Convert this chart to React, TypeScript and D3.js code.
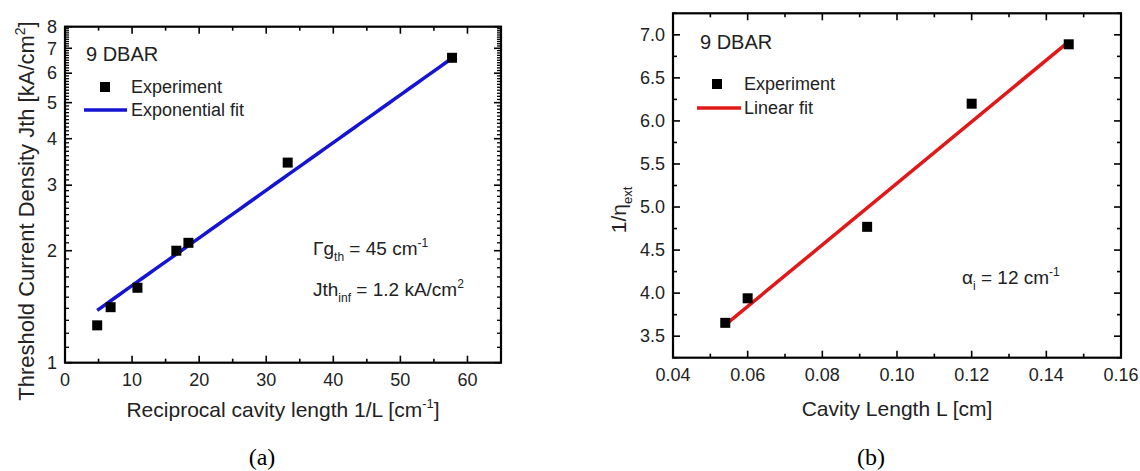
import React from "react";
import * as d3 from "d3";

// ---------- Panel (a) data ----------
const recipL = [4.8, 6.8, 10.8, 16.6, 18.4, 33.2, 57.7];
const jthVals = [1.26, 1.41, 1.59, 2.0, 2.1, 3.45, 6.6];
const expFitA = 1.2;
const expFitB = 0.0295;
const expFitRange = [4.8, 57.8];
const aXTicks = [0, 10, 20, 30, 40, 50, 60];
const aXMinor = [5, 15, 25, 35, 45, 55];
const aYTicks = [1, 2, 3, 4, 5, 6, 7, 8];

// ---------- Panel (b) data ----------
const cavLen = [0.054, 0.06, 0.092, 0.12, 0.146];
const invEta = [3.655, 3.94, 4.77, 6.2, 6.89];
const linFitIntercept = 1.7;
const linFitSlope = 35.76;
const linFitRange = [0.054, 0.146];
const bXTicks = [0.04, 0.06, 0.08, 0.1, 0.12, 0.14, 0.16];
const bYTicks = [3.5, 4.0, 4.5, 5.0, 5.5, 6.0, 6.5, 7.0];

const FONT = "'Liberation Sans', Arial, sans-serif";

export default function App() {
  // scales
  const ax = d3.scaleLinear().domain([0, 65]).range([65, 501]);
  const ay = d3.scaleLog().domain([1, 8]).range([362.7, 26.7]);
  const bx = d3.scaleLinear().domain([0.04, 0.16]).range([673, 1121]);
  const by = d3.scaleLinear().domain([3.25, 7.25]).range([357.7, 13.3]);

  const aYMinor: number[] = [];
  for (let k = 1; k < 8; k++) {
    for (let j = 1; j < 10; j++) aYMinor.push(k + j / 10);
  }
  const bXMinor = d3.range(0.05, 0.16, 0.02);
  const bYMinor = d3.range(3.25, 7.3, 0.5);

  const expLine = d3
    .line<number>()
    .x((v) => ax(v))
    .y((v) => ay(expFitA * Math.exp(expFitB * v)));
  const expPts = d3.range(expFitRange[0], expFitRange[1] + 0.001, (expFitRange[1] - expFitRange[0]) / 50);

  const linLine = d3
    .line<number>()
    .x((v) => bx(v))
    .y((v) => by(linFitIntercept + linFitSlope * v));

  const [a0, a1] = ax.range();
  const [ayb, ayt] = ay.range();
  const [b0, b1] = bx.range();
  const [byb, byt] = by.range();

  const MAJ = 7;
  const MIN = 4;
  const sq = 10;

  return (
    <svg
      width={1140}
      height={471}
      style={{ position: "absolute", left: 0, top: 0, background: "#fff" }}
      fontFamily={FONT}
    >
      <rect x={0} y={0} width={1140} height={471} fill="#fff" />

      {/* ================= Panel (a) ================= */}
      <g>
        {aXTicks.map((t) => (
          <g key={"axt" + t}>
            <line x1={ax(t)} x2={ax(t)} y1={ayb} y2={ayb - MAJ} stroke="#000" strokeWidth={1.6} />
            <line x1={ax(t)} x2={ax(t)} y1={ayt} y2={ayt + MAJ} stroke="#000" strokeWidth={1.6} />
            <text x={ax(t)} y={386} fontSize={18} textAnchor="middle" fill="#222">
              {t}
            </text>
          </g>
        ))}
        {aXMinor.map((t) => (
          <g key={"axm" + t}>
            <line x1={ax(t)} x2={ax(t)} y1={ayb} y2={ayb - MIN} stroke="#000" strokeWidth={1.6} />
            <line x1={ax(t)} x2={ax(t)} y1={ayt} y2={ayt + MIN} stroke="#000" strokeWidth={1.6} />
          </g>
        ))}
        {aYTicks.map((t) => (
          <g key={"ayt" + t}>
            <line x1={a0} x2={a0 + MAJ} y1={ay(t)} y2={ay(t)} stroke="#000" strokeWidth={1.6} />
            <line x1={a1} x2={a1 - MAJ} y1={ay(t)} y2={ay(t)} stroke="#000" strokeWidth={1.6} />
            <text x={57} y={ay(t)} dy="0.35em" fontSize={18} textAnchor="end" fill="#222">
              {t}
            </text>
          </g>
        ))}
        {aYMinor.map((t, i) => (
          <g key={"aym" + i}>
            <line x1={a0} x2={a0 + MIN} y1={ay(t)} y2={ay(t)} stroke="#000" strokeWidth={1.3} />
            <line x1={a1} x2={a1 - MIN} y1={ay(t)} y2={ay(t)} stroke="#000" strokeWidth={1.3} />
          </g>
        ))}
        <rect x={a0} y={ayt} width={a1 - a0} height={ayb - ayt} fill="none" stroke="#000" strokeWidth={2.2} />

        <path d={expLine(expPts) || ""} fill="none" stroke="#1414d2" strokeWidth={3.5} />
        {recipL.map((v, i) => (
          <rect key={"ap" + i} x={ax(v) - sq / 2} y={ay(jthVals[i]) - sq / 2} width={sq} height={sq} fill="#000" />
        ))}

        <text x={86} y={60.5} fontSize={20} fill="#222">9 DBAR</text>
        <rect x={105 - sq / 2} y={87 - sq / 2} width={sq} height={sq} fill="#000" />
        <text x={131} y={93} fontSize={18} fill="#222">Experiment</text>
        <line x1={84} x2={127} y1={110} y2={110} stroke="#1414d2" strokeWidth={3.5} />
        <text x={131} y={116} fontSize={18} fill="#222">Exponential fit</text>

        <text x={313} y={255} fontSize={19} fill="#222">
          Γg<tspan fontSize={12} dy={6}>th</tspan>
          <tspan dy={-6}> = 45 cm</tspan>
          <tspan fontSize={12} dy={-8}>-1</tspan>
        </text>
        <text x={313} y={296} fontSize={19} fill="#222">
          Jth<tspan fontSize={12} dy={6}>inf</tspan>
          <tspan dy={-6}> = 1.2 kA/cm</tspan>
          <tspan fontSize={12} dy={-8}>2</tspan>
        </text>

        <text x={283} y={417} fontSize={21} textAnchor="middle" fill="#222">
          Reciprocal cavity length 1/L [cm<tspan fontSize={13} dy={-9}>-1</tspan>
          <tspan dy={9}>]</tspan>
        </text>
        <text transform="translate(34,211) rotate(-90)" fontSize={22} textAnchor="middle" fill="#222">
          Threshold Current Density Jth [kA/cm<tspan fontSize={14} dy={-9}>2</tspan>
          <tspan dy={9}>]</tspan>
        </text>

        <text x={262} y={465} fontSize={24} textAnchor="middle" fontFamily="'Liberation Serif', 'Times New Roman', serif" fill="#000">
          (a)
        </text>
      </g>

      {/* ================= Panel (b) ================= */}
      <g>
        {bXTicks.map((t) => (
          <g key={"bxt" + t}>
            <line x1={bx(t)} x2={bx(t)} y1={byb} y2={byb - MAJ} stroke="#000" strokeWidth={1.6} />
            <line x1={bx(t)} x2={bx(t)} y1={byt} y2={byt + MAJ} stroke="#000" strokeWidth={1.6} />
            <text x={bx(t)} y={381} fontSize={18} textAnchor="middle" fill="#222">
              {d3.format(".2f")(t)}
            </text>
          </g>
        ))}
        {bXMinor.map((t, i) => (
          <g key={"bxm" + i}>
            <line x1={bx(t)} x2={bx(t)} y1={byb} y2={byb - MIN} stroke="#000" strokeWidth={1.6} />
            <line x1={bx(t)} x2={bx(t)} y1={byt} y2={byt + MIN} stroke="#000" strokeWidth={1.6} />
          </g>
        ))}
        {bYTicks.map((t) => (
          <g key={"byt" + t}>
            <line x1={b0} x2={b0 + MAJ} y1={by(t)} y2={by(t)} stroke="#000" strokeWidth={1.6} />
            <line x1={b1} x2={b1 - MAJ} y1={by(t)} y2={by(t)} stroke="#000" strokeWidth={1.6} />
            <text x={665} y={by(t)} dy="0.35em" fontSize={18} textAnchor="end" fill="#222">
              {d3.format(".1f")(t)}
            </text>
          </g>
        ))}
        {bYMinor.map((t, i) => (
          <g key={"bym" + i}>
            <line x1={b0} x2={b0 + MIN} y1={by(t)} y2={by(t)} stroke="#000" strokeWidth={1.6} />
            <line x1={b1} x2={b1 - MIN} y1={by(t)} y2={by(t)} stroke="#000" strokeWidth={1.6} />
          </g>
        ))}
        <rect x={b0} y={byt} width={b1 - b0} height={byb - byt} fill="none" stroke="#000" strokeWidth={2.2} />

        <path d={linLine(linFitRange) || ""} fill="none" stroke="#e01818" strokeWidth={3.5} />
        {cavLen.map((v, i) => (
          <rect key={"bp" + i} x={bx(v) - sq / 2} y={by(invEta[i]) - sq / 2} width={sq} height={sq} fill="#000" />
        ))}

        <text x={700} y={49} fontSize={20} fill="#222">9 DBAR</text>
        <rect x={717 - sq / 2} y={84 - sq / 2} width={sq} height={sq} fill="#000" />
        <text x={744} y={90} fontSize={18} fill="#222">Experiment</text>
        <line x1={697} x2={741} y1={108} y2={108} stroke="#e01818" strokeWidth={3.5} />
        <text x={744} y={114} fontSize={18} fill="#222">Linear fit</text>

        <text x={962} y={284} fontSize={19} fill="#222">
          α<tspan fontSize={12} dy={6}>i</tspan>
          <tspan dy={-6}> = 12 cm</tspan>
          <tspan fontSize={12} dy={-8}>-1</tspan>
        </text>

        <text x={897} y={416} fontSize={21} textAnchor="middle" fill="#222">
          Cavity Length L [cm]
        </text>
        <text transform="translate(626,210) rotate(-90)" fontSize={21} textAnchor="middle" fill="#222">
          1/η<tspan fontSize={13} dy={6}>ext</tspan>
        </text>

        <text x={871} y={465} fontSize={24} textAnchor="middle" fontFamily="'Liberation Serif', 'Times New Roman', serif" fill="#000">
          (b)
        </text>
      </g>
    </svg>
  );
}
